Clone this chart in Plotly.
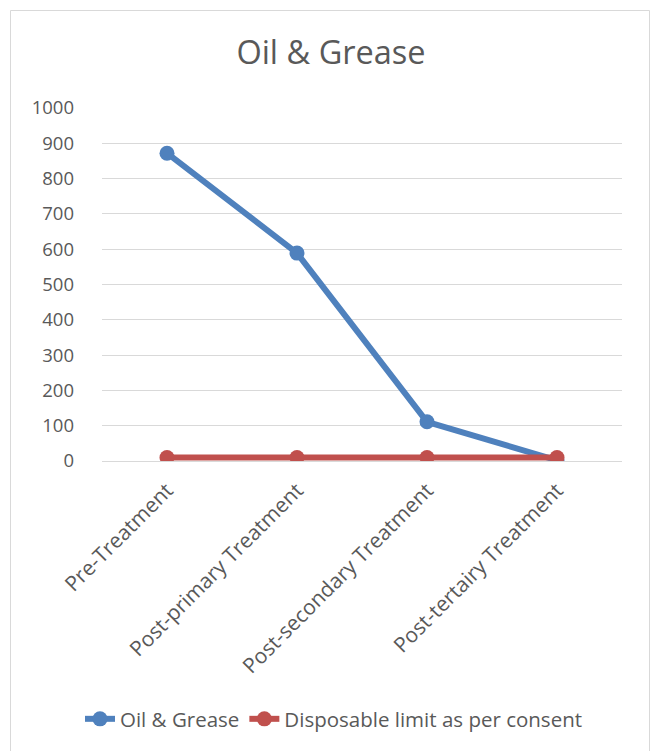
import plotly.graph_objects as go

# Treatment stages and measured values
stages = ["Pre-Treatment", "Post-primary Treatment", "Post-secondary Treatment", "Post-tertairy Treatment"]
oil_grease = [872, 589, 111, 2]
consent_limit = [10, 10, 10, 10]
y_ticks = [0, 100, 200, 300, 400, 500, 600, 700, 800, 900, 1000]

W, H = 651, 751
L, R, T, B = 102, 29, 108, 290
plot_h = H - T - B
plot_w = W - L - R

def px_to_paper_x(px):
    return (px - L) / plot_w

def px_to_paper_y(py):
    return (H - B - py) / plot_h

font_family = "Open Sans, DejaVu Sans, sans-serif"
text_color = "#595959"

fig = go.Figure()
fig.add_trace(go.Scatter(
    x=stages, y=oil_grease, name="Oil & Grease",
    mode="lines+markers",
    line=dict(color="#4f81bd", width=6),
    marker=dict(color="#4f81bd", size=15),
))
fig.add_trace(go.Scatter(
    x=stages, y=consent_limit, name="Disposable limit as per consent",
    mode="lines+markers",
    line=dict(color="#c0504d", width=6),
    marker=dict(color="#c0504d", size=15),
))

# Chart frame
fig.add_shape(
    type="rect", xref="paper", yref="paper",
    x0=px_to_paper_x(10.5), x1=px_to_paper_x(649.5),
    y0=px_to_paper_y(760), y1=px_to_paper_y(10.5),
    line=dict(color="#d9d9d9", width=1), fillcolor="rgba(0,0,0,0)", layer="below",
)

fig.update_layout(
    width=W, height=H,
    margin=dict(l=L, r=R, t=T, b=B, pad=0),
    paper_bgcolor="white", plot_bgcolor="white",
    font=dict(family=font_family, color=text_color, size=18),
    title=dict(text="Oil & Grease", x=px_to_paper_x(331), xref="paper", xanchor="center",
               y=1 - 53 / H, yanchor="middle",
               font=dict(size=32.5, color=text_color, family=font_family)),
    showlegend=True,
    legend=dict(orientation="h", x=px_to_paper_x(334), xanchor="center",
                y=px_to_paper_y(719), yanchor="middle",
                font=dict(size=20.5, color=text_color), itemwidth=30,
                traceorder="normal", bgcolor="rgba(0,0,0,0)"),
    xaxis=dict(
        type="category", tickangle=-45, showline=False, showgrid=False,
        ticks="", tickfont=dict(size=21, color=text_color), zeroline=False,
        range=[-0.5, 3.5], ticklabelstandoff=12,
    ),
    yaxis=dict(
        range=[0, 1000], tickvals=y_ticks, showgrid=True, gridcolor="#d9d9d9",
        gridwidth=1, zeroline=True, zerolinecolor="#d9d9d9", zerolinewidth=1,
        showline=False, ticks="", tickfont=dict(size=18.5, color=text_color),
        ticklabelstandoff=27,
    ),
)

fig.write_html("out.html")
